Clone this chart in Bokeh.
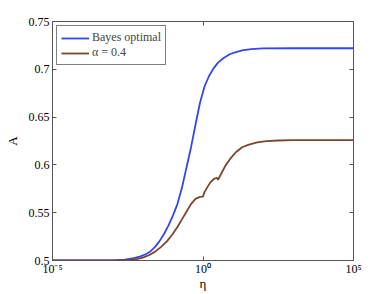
from bokeh.plotting import figure
from bokeh.models import FixedTicker, LinearAxis, LogAxis, Legend, LegendItem, Range1d
from bokeh.embed import file_html
from bokeh.resources import INLINE

# Data (log10 of eta, and A)
log_eta_bayes = [-5, -3, -2.6, -2.3, -2.1, -1.9, -1.75, -1.6, -1.45, -1.3, -1.15, -1.0, -0.85, -0.7,
                 -0.55, -0.4, -0.25, -0.1, 0.05, 0.2, 0.35, 0.5, 0.7, 0.9, 1.1, 1.3,
                 1.6, 2.0, 3.0, 5.0]
A_bayes = [0.5, 0.5, 0.501, 0.5025, 0.504, 0.5065, 0.5095, 0.514, 0.520, 0.5275, 0.5365, 0.547, 0.559, 0.576,
           0.597, 0.618, 0.642, 0.665, 0.682, 0.693, 0.701, 0.707, 0.712, 0.716, 0.718, 0.7198,
           0.7212, 0.7218, 0.722, 0.722]

log_eta_alpha = [-5, -3, -2.5, -2.2, -2.0, -1.8, -1.6, -1.4, -1.2, -1.0, -0.85, -0.7,
                 -0.55, -0.4, -0.25, -0.1, 0.0, 0.05, 0.15, 0.25, 0.37, 0.46, 0.5, 0.6,
                 0.75, 0.92, 1.1, 1.3, 1.5, 1.8, 2.1, 2.5, 3.0, 5.0]
A_alpha = [0.5, 0.5, 0.5005, 0.5015, 0.503, 0.5055, 0.509, 0.514, 0.520, 0.528, 0.535, 0.543,
           0.551, 0.559, 0.5645, 0.5665, 0.5668, 0.5715, 0.577, 0.582, 0.5855, 0.5865, 0.5845, 0.5905,
           0.5995, 0.607, 0.6135, 0.6185, 0.621, 0.6235, 0.6248, 0.6255, 0.626, 0.626]

x_ticks = [1e-5, 1.0, 1e5]
x_tick_labels = ["10\u207b\u2075", "10\u2070", "10\u2075"]
y_ticks = [0.5, 0.55, 0.6, 0.65, 0.7, 0.75]
y_tick_labels = ["0.5", "0.55", "0.6", "0.65", "0.7", "0.75"]
x_title = "\u03b7"
y_title = "A"

series_names = ["Bayes optimal", "\u03b1 = 0.4"]
series_colors = ["#3445f5", "#7a4630"]

eta_bayes = [10 ** v for v in log_eta_bayes]
eta_alpha = [10 ** v for v in log_eta_alpha]

FONT = "Liberation Serif"
AX = "#555555"

p = figure(width=390, height=294, x_axis_type="log", output_backend="svg",
           toolbar_location=None, x_range=Range1d(1e-5, 1e5), y_range=Range1d(0.5, 0.75),
           min_border_left=52, min_border_right=37, min_border_top=21, min_border_bottom=34)
p.background_fill_color = "white"
p.border_fill_color = "white"
p.grid.visible = False
p.outline_line_color = AX
p.outline_line_width = 1

r1 = p.line(eta_bayes, A_bayes, line_color=series_colors[0], line_width=1.8)
r2 = p.line(eta_alpha, A_alpha, line_color=series_colors[1], line_width=1.8)

def style(ax):
    ax.axis_line_color = AX
    ax.major_tick_line_color = AX
    ax.major_tick_in = 4
    ax.major_tick_out = 0
    ax.minor_tick_line_color = None
    ax.major_label_text_font = FONT
    ax.major_label_text_font_size = "12px"
    ax.major_label_text_color = "black"
    ax.axis_label_text_font = FONT
    ax.axis_label_text_font_style = "normal"
    ax.axis_label_text_font_size = "13px"
    ax.axis_label_text_color = "black"

xa = p.xaxis[0]
xa.ticker = FixedTicker(ticks=x_ticks)
xa.major_label_overrides = {t: s for t, s in zip(x_ticks, x_tick_labels)}
xa.axis_label = x_title
xa.major_label_standoff = 1
xa.axis_label_standoff = -3
xa.major_label_text_line_height = 1.0
xa.axis_label_text_line_height = 1.0
style(xa)

ya = p.yaxis[0]
ya.ticker = FixedTicker(ticks=y_ticks)
ya.major_label_overrides = {t: s for t, s in zip(y_ticks, y_tick_labels)}
ya.axis_label = y_title
ya.major_label_standoff = 3
ya.axis_label_standoff = 6
style(ya)

top = LogAxis(ticker=FixedTicker(ticks=x_ticks))
style(top)
top.major_label_text_color = None
top.major_label_text_font_size = "1px"
top.major_label_standoff = 0
p.add_layout(top, "above")
right = LinearAxis(ticker=FixedTicker(ticks=y_ticks))
style(right)
right.major_label_text_color = None
right.major_label_text_font_size = "1px"
right.major_label_standoff = 0
p.add_layout(right, "right")

legend = Legend(items=[LegendItem(label=series_names[0], renderers=[r1]),
                       LegendItem(label=series_names[1], renderers=[r2])],
                location="top_left")
legend.label_text_font = FONT
legend.label_text_font_size = "12px"
legend.border_line_color = "black"
legend.border_line_width = 1
legend.margin = 4
legend.padding = 4
legend.spacing = 0
legend.label_height = 14
legend.glyph_height = 14
legend.glyph_width = 28
legend.label_standoff = 3
legend.background_fill_alpha = 1
p.add_layout(legend)

open("out.html", "w").write(file_html(p, INLINE))
